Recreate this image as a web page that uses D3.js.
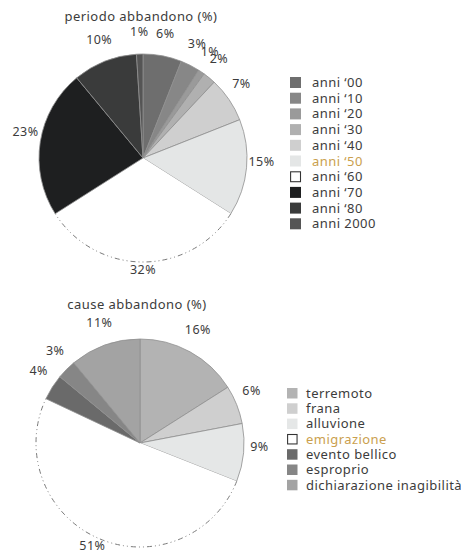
<!DOCTYPE html>
<html><head><meta charset="utf-8">
<script src="https://cdn.jsdelivr.net/npm/d3@7"></script>
<style>
body{margin:0;background:#fff;}
text{font-family:"Noto Sans",sans-serif;fill:#3c3c3c;letter-spacing:0.45px;}
</style></head>
<body><svg id="c" width="461" height="556"></svg>
<script>
// Chart 1: periodo abbandono
const periodCategories = ["anni ‘00","anni ‘10","anni ‘20","anni ‘30","anni ‘40","anni ‘50","anni ‘60","anni ‘70","anni ‘80","anni 2000"];
const periodValues = [6,3,1,2,7,15,32,23,10,1];
const periodColors = ["#6e6e6e","#878787","#9a9a9a","#b0b0b0","#cfcfcf","#e4e6e6","#ffffff","#1e1f20","#3a3b3b","#555555"];
// Chart 2: cause abbandono
const causeCategories = ["terremoto","frana","alluvione","emigrazione","evento bellico","esproprio","dichiarazione inagibilità"];
const causeValues = [16,6,9,51,4,3,11];
const causeColors = ["#b3b3b3","#cfcfcf","#e5e7e7","#ffffff","#6a6a6a","#868686","#a3a3a3"];
const highlightColor = "#caa04e";

const svg = d3.select("#c");

function drawPie(cfg){
  const g = svg.append("g").attr("transform",`translate(${cfg.cx},${cfg.cy})`);
  const pie = d3.pie().sort(null).value(d=>d.v);
  const data = pie(cfg.values.map((v,i)=>({v, c:cfg.colors[i], name:cfg.cats[i]})));
  const arc = d3.arc().innerRadius(0).outerRadius(cfg.r);
  const labelArc = d3.arc().innerRadius(cfg.lr).outerRadius(cfg.lr);
  g.selectAll("path.s").data(data).join("path").attr("class","s")
    .attr("d",arc).attr("fill",d=>d.data.c)
    .attr("stroke",d=>d.data.c==="#ffffff"?"none":"#8f8f8f")
    .attr("stroke-width",0.8);
  // dashed outline for the white slice
  data.filter(d=>d.data.c==="#ffffff").forEach(d=>{
    const p = d3.path();
    p.arc(0,0,cfg.r,d.startAngle-Math.PI/2,d.endAngle-Math.PI/2);
    g.append("path").attr("d",p.toString()).attr("fill","none")
      .attr("stroke","#7a7a7a").attr("stroke-width",1)
      .attr("stroke-dasharray","5,3,1,3,1,3");
  });
  g.selectAll("text.l").data(data).join("text").attr("class","l")
    .attr("x",d=>labelArc.centroid(d)[0])
    .attr("y",d=>labelArc.centroid(d)[1]-8+4.5)
    .attr("text-anchor","middle").attr("font-size",12.5)
    .text(d=>d.data.v+"%");
  svg.append("text").attr("x",cfg.tx).attr("y",cfg.ty).attr("text-anchor","middle")
    .attr("font-size",13).text(cfg.title);
  // legend
  const lg = svg.append("g").attr("transform",`translate(${cfg.lx},${cfg.ly})`);
  const rows = lg.selectAll("g").data(cfg.cats).join("g")
    .attr("transform",(d,i)=>`translate(0,${i*cfg.lstep})`);
  rows.append("rect").attr("x",0).attr("y",0)
    .attr("width",cfg.sq).attr("height",cfg.sq)
    .attr("fill",(d,i)=>cfg.colors[i])
    .attr("stroke",(d,i)=>cfg.colors[i]==="#ffffff"?"#333":"none")
    .attr("stroke-width",1.2)
    .attr("transform",(d,i)=>cfg.colors[i]==="#ffffff"?"translate(0.6,0.6) scale(0.9)":null);
  rows.append("text").attr("x",cfg.tdx).attr("y",cfg.sq/2+4.5)
    .attr("font-size",13)
    .style("fill",(d,i)=>i===cfg.hi?highlightColor:null)
    .text(d=>d);
}

drawPie({cx:143,cy:158,r:104,lr:119,values:periodValues,colors:periodColors,cats:periodCategories,
  title:"periodo abbandono (%)",tx:141,ty:21,lx:290,ly:77,lstep:15.7,sq:11,tdx:22,hi:5});
drawPie({cx:140,cy:443,r:104,lr:120,values:causeValues,colors:causeColors,cats:causeCategories,
  title:"cause abbandono (%)",tx:137,ty:309,lx:287,ly:388,lstep:15.3,sq:10.5,tdx:19,hi:3});
</script></body></html>
